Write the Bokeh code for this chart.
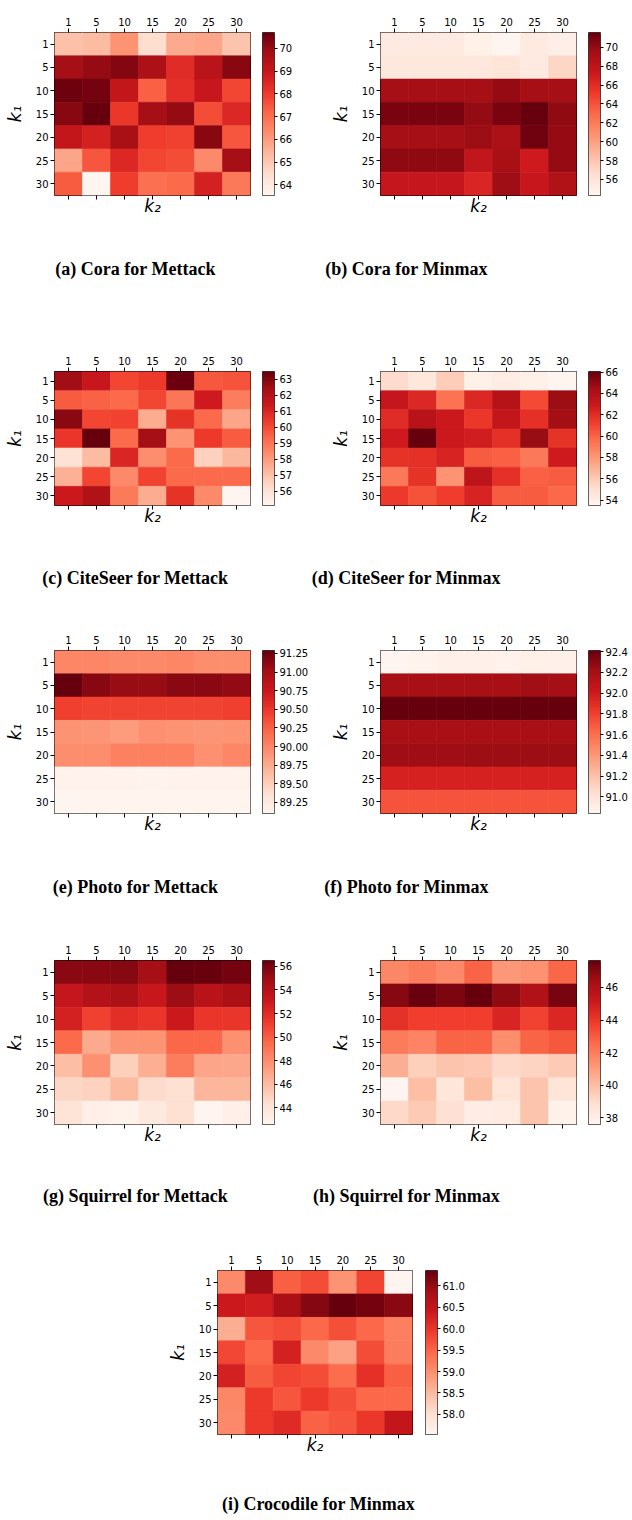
import numpy as np
from bokeh.plotting import figure
from bokeh.models import (FactorRange, Range1d, LinearColorMapper, CategoricalAxis,
                          FixedTicker, PrintfTickFormatter, Label, ColumnDataSource)
from bokeh.layouts import row, column
from bokeh.palettes import Reds9
from bokeh.embed import file_html
from bokeh.resources import INLINE

k_values = ["1", "5", "10", "15", "20", "25", "30"]

cora_mettack = [
    [65.2, 65.3, 66.2, 64.5, 65.7, 65.8, 65.1],
    [69.8, 70.0, 70.3, 69.6, 68.4, 69.3, 70.2],
    [70.6, 70.5, 69.1, 67.3, 68.3, 69.0, 67.8],
    [70.2, 70.7, 68.1, 69.8, 70.0, 67.7, 68.5],
    [69.1, 68.7, 69.7, 68.0, 67.9, 70.2, 67.5],
    [65.8, 67.5, 68.5, 67.8, 67.7, 66.4, 69.8],
    [67.4, 63.53, 68.0, 67.0, 67.1, 68.7, 66.8],
]
cora_minmax = [
    [55.4, 55.4, 55.4, 54.9, 54.3, 55.4, 55.0],
    [55.6, 55.6, 55.6, 55.6, 56.0, 55.5, 57.0],
    [69.3, 69.3, 69.3, 69.4, 69.9, 69.3, 69.3],
    [70.9, 70.9, 70.9, 70.0, 70.9, 71.57, 70.1],
    [69.4, 69.4, 69.4, 69.7, 69.0, 71.3, 69.9],
    [70.2, 70.2, 70.2, 67.8, 69.2, 67.1, 69.9],
    [67.6, 67.6, 67.6, 66.4, 69.6, 67.5, 68.7],
]
citeseer_mettack = [
    [62.5, 61.5, 60.1, 60.4, 63.4, 59.7, 59.8],
    [59.6, 59.5, 59.3, 60.1, 59.0, 61.3, 58.8],
    [62.9, 60.1, 60.2, 57.6, 60.6, 59.3, 57.8],
    [60.5, 63.49, 59.3, 62.4, 58.2, 60.4, 59.6],
    [56.1, 57.2, 61.0, 58.4, 59.3, 56.6, 57.3],
    [57.5, 60.1, 58.5, 60.2, 59.3, 59.3, 59.3],
    [61.4, 62.1, 58.9, 57.6, 60.6, 58.5, 55.12],
]
citeseer_minmax = [
    [55.3, 54.6, 55.9, 53.9, 54.1, 53.8, 53.5],
    [63.2, 62.2, 59.4, 62.2, 63.8, 60.9, 64.7],
    [62.0, 63.7, 62.9, 61.5, 63.3, 61.8, 64.5],
    [62.8, 66.05, 62.9, 62.7, 61.8, 64.8, 61.7],
    [61.7, 61.8, 62.4, 60.3, 60.1, 59.2, 62.8],
    [59.2, 61.7, 58.2, 63.5, 61.8, 60.1, 60.3],
    [61.4, 60.6, 61.3, 62.4, 60.3, 60.3, 59.8],
]
photo_mettack = [
    [90.00, 90.00, 89.98, 89.98, 90.00, 89.96, 89.96],
    [91.29, 91.14, 91.07, 91.07, 91.13, 91.13, 91.10],
    [90.45, 90.42, 90.42, 90.42, 90.42, 90.42, 90.45],
    [89.92, 89.90, 89.86, 89.93, 89.92, 89.90, 89.92],
    [89.96, 89.96, 90.04, 90.04, 90.04, 89.93, 90.00],
    [89.14, 89.14, 89.14, 89.13, 89.14, 89.14, 89.14],
    [89.10, 89.12, 89.12, 89.12, 89.12, 89.12, 89.12],
]
photo_minmax = [
    [90.84, 90.86, 90.88, 90.88, 90.87, 90.89, 90.88],
    [92.20, 92.20, 92.20, 92.20, 92.20, 92.22, 92.21],
    [92.41, 92.41, 92.41, 92.41, 92.41, 92.41, 92.41],
    [92.20, 92.20, 92.20, 92.20, 92.20, 92.20, 92.20],
    [92.23, 92.23, 92.23, 92.24, 92.24, 92.24, 92.24],
    [91.96, 91.96, 91.96, 91.96, 91.96, 91.96, 91.96],
    [91.72, 91.72, 91.72, 91.72, 91.72, 91.72, 91.72],
]
squirrel_mettack = [
    [55.5, 55.5, 55.6, 54.7, 56.5, 56.4, 56.1],
    [53.3, 54.1, 54.4, 53.2, 55.0, 53.9, 54.5],
    [52.6, 51.1, 51.9, 51.5, 53.0, 51.5, 51.5],
    [49.5, 46.8, 47.7, 47.7, 49.6, 49.6, 47.9],
    [45.9, 47.9, 45.1, 46.6, 48.7, 47.0, 46.9],
    [44.8, 45.0, 46.1, 44.5, 44.3, 46.3, 46.3],
    [44.1, 43.1, 42.9, 43.6, 44.3, 42.58, 43.1],
]
squirrel_minmax = [
    [41.7, 42.0, 41.6, 42.8, 41.2, 41.4, 42.7],
    [47.0, 47.6, 47.2, 47.65, 46.8, 46.0, 47.3],
    [44.2, 43.8, 43.8, 43.8, 44.7, 43.7, 44.6],
    [42.1, 41.8, 42.8, 42.8, 41.5, 42.8, 43.1],
    [40.5, 39.4, 39.8, 39.7, 39.1, 39.3, 39.6],
    [37.59, 40.0, 38.5, 40.0, 38.6, 39.8, 38.6],
    [39.1, 39.6, 38.8, 38.1, 38.2, 39.8, 37.8],
]
crocodile_minmax = [
    [59.06, 60.90, 59.56, 59.75, 58.95, 59.83, 57.53],
    [60.40, 60.33, 60.82, 61.13, 61.36, 61.25, 61.09],
    [58.64, 59.64, 59.75, 59.45, 59.72, 59.45, 59.18],
    [59.79, 59.45, 60.29, 59.06, 58.79, 59.75, 59.22],
    [60.29, 59.60, 59.83, 59.75, 59.41, 60.06, 59.56],
    [59.10, 59.94, 59.64, 59.94, 59.72, 59.45, 59.45],
    [59.06, 59.94, 60.14, 59.52, 59.64, 59.98, 60.52],
]

ticks_a = [64, 65, 66, 67, 68, 69, 70]
ticks_b = [56, 58, 60, 62, 64, 66, 68, 70]
ticks_c = [56, 57, 58, 59, 60, 61, 62, 63]
ticks_d = [54, 56, 58, 60, 62, 64, 66]
ticks_e = [89.25, 89.50, 89.75, 90.00, 90.25, 90.50, 90.75, 91.00, 91.25]
ticks_f = [91.0, 91.2, 91.4, 91.6, 91.8, 92.0, 92.2, 92.4]
ticks_g = [44, 46, 48, 50, 52, 54, 56]
ticks_h = [38, 40, 42, 44, 46]
ticks_i = [58.0, 58.5, 59.0, 59.5, 60.0, 60.5, 61.0]

captions = ["(a) Cora for Mettack", "(b) Cora for Minmax",
            "(c) CiteSeer for Mettack", "(d) CiteSeer for Minmax",
            "(e) Photo for Mettack", "(f) Photo for Minmax",
            "(g) Squirrel for Mettack", "(h) Squirrel for Minmax",
            "(i) Crocodile for Minmax"]

# matplotlib "Reds" colormap (ColorBrewer 9 anchors, linear interpolation)
anchors = list(reversed(Reds9))
rgb = np.array([[int(c[i:i + 2], 16) for i in (1, 3, 5)] for c in anchors], float)
ta = np.linspace(0, 1, len(anchors))
tt = np.linspace(0, 1, 256)
reds256 = ["#%02x%02x%02x" % tuple(int(round(np.interp(v, ta, rgb[:, k]))) for k in range(3))
           for v in tt]

FONT = "DejaVu Sans"
HEAT_H = 230


def style_axis(ax):
    ax.axis_line_color = None
    ax.major_tick_line_color = "black"
    ax.major_tick_out = 4
    ax.major_tick_in = 0
    ax.minor_tick_line_color = None
    ax.major_label_text_font = FONT
    ax.major_label_text_font_size = "10px"
    ax.major_label_text_color = "black"
    ax.axis_label_text_font = FONT
    ax.axis_label_text_font_style = "italic"
    ax.axis_label_text_font_size = "17px"
    ax.axis_label_text_color = "black"


def heat_fig(vals, width, left, top, fw, fh):
    height = HEAT_H
    bottom = height - top - fh
    right = width - left - fw
    xs, ys, vs = [], [], []
    for i, k1 in enumerate(k_values):
        for j, k2 in enumerate(k_values):
            xs.append(k2)
            ys.append(k1)
            vs.append(vals[i][j])
    src = ColumnDataSource(dict(k2=xs, k1=ys, v=vs))
    mapper = LinearColorMapper(palette=reds256, low=min(vs), high=max(vs))
    p = figure(width=width, height=height,
               x_range=FactorRange(factors=k_values),
               y_range=FactorRange(factors=k_values[::-1]),
               x_axis_location=None, y_axis_location="left",
               output_backend="svg", toolbar_location=None, title=None,
               min_border_left=left, min_border_right=right,
               min_border_top=top, min_border_bottom=bottom)
    p.rect(x="k2", y="k1", width=1, height=1, source=src,
           fill_color={"field": "v", "transform": mapper},
           line_color={"field": "v", "transform": mapper}, line_width=0.6)
    p.grid.visible = False
    p.outline_line_color = "black"
    p.outline_line_width = 1

    top_axis = CategoricalAxis()
    style_axis(top_axis)
    top_axis.major_label_standoff = 3
    p.add_layout(top_axis, "above")

    bot_axis = CategoricalAxis()
    style_axis(bot_axis)
    bot_axis.major_label_text_font_size = "1px"
    bot_axis.major_label_text_color = None
    bot_axis.major_label_standoff = 0
    bot_axis.axis_label = "k₂"
    bot_axis.axis_label_standoff = -4
    p.add_layout(bot_axis, "below")

    ly = p.yaxis[0]
    style_axis(ly)
    ly.major_label_standoff = 2
    ly.axis_label = "k₁"
    ly.axis_label_standoff = 8
    return p, mapper


def cbar_fig(mapper, ticks, fmt, width, left, top, ch):
    height = HEAT_H
    lo, hi = mapper.low, mapper.high
    p = figure(width=width, height=height, x_range=Range1d(0, 1), y_range=Range1d(lo, hi),
               x_axis_location=None, y_axis_location="right",
               output_backend="svg", toolbar_location=None, title=None,
               min_border_left=left, min_border_right=width - left - 12,
               min_border_top=top, min_border_bottom=height - top - ch)
    grad = np.linspace(lo, hi, 256).reshape(256, 1)
    p.image(image=[grad], x=0, y=lo, dw=1, dh=hi - lo, color_mapper=mapper)
    p.grid.visible = False
    p.outline_line_color = "#333333"
    p.outline_line_width = 1
    ax = p.yaxis[0]
    ax.ticker = FixedTicker(ticks=ticks)
    ax.formatter = PrintfTickFormatter(format=fmt)
    ax.axis_line_color = None
    ax.major_tick_line_color = "black"
    ax.major_tick_out = 3
    ax.major_tick_in = 0
    ax.minor_tick_line_color = None
    ax.major_label_text_font = FONT
    ax.major_label_text_font_size = "10px"
    ax.major_label_text_color = "black"
    ax.major_label_standoff = 2
    return p


def caption_fig(height, texts, centers, cy):
    p = figure(width=632, height=height, x_range=Range1d(0, 632), y_range=Range1d(0, height),
               x_axis_location=None, y_axis_location=None,
               output_backend="svg", toolbar_location=None, title=None,
               min_border=0, min_border_left=0, min_border_right=0,
               min_border_top=0, min_border_bottom=0)
    p.grid.visible = False
    p.outline_line_color = None
    for txt, cx in zip(texts, centers):
        p.add_layout(Label(x=cx, y=height - cy, x_units="screen", y_units="screen",
                           text=txt, text_align="center", text_baseline="middle",
                           text_font="Liberation Serif", text_font_style="bold",
                           text_font_size="18px", text_color="black"))
    return p


def pair_block(pitch, left_spec, right_spec, cap_y):
    vals_l, ticks_l, fmt_l, cap_l, geo_l = left_spec
    vals_r, ticks_r, fmt_r, cap_r, geo_r = right_spec
    # geo: (frame_top, frame_h, cbar_top, cbar_h)
    hl, ml = heat_fig(vals_l, 256, 54, geo_l[0], 196, geo_l[1])
    cl = cbar_fig(ml, ticks_l, fmt_l, 60, 6, geo_l[2], geo_l[3])
    hr, mr = heat_fig(vals_r, 266, 64, geo_r[0], 196, geo_r[1])
    cr = cbar_fig(mr, ticks_r, fmt_r, 50, 6, geo_r[2], geo_r[3])
    cap = caption_fig(pitch - HEAT_H, [cap_l, cap_r], [135, 406], cap_y - HEAT_H)
    return column(row(hl, cl, hr, cr, spacing=0), cap, spacing=0)


std = (32, 163, 11, 205)
b1 = pair_block(310, (cora_mettack, ticks_a, "%d", captions[0], std),
                (cora_minmax, ticks_b, "%d", captions[1], std), 268)
b2 = pair_block(309, (citeseer_mettack, ticks_c, "%d", captions[2], (31, 164, 11, 205)),
                (citeseer_minmax, ticks_d, "%d", captions[3], (61, 140, 43, 175)), 267)
b3 = pair_block(310, (photo_mettack, ticks_e, "%.2f", captions[4], (31, 163, 10, 205)),
                (photo_minmax, ticks_f, "%.1f", captions[5], (31, 163, 10, 205)), 267)
b4 = pair_block(309, (squirrel_mettack, ticks_g, "%d", captions[6], (31, 164, 10, 204)),
                (squirrel_minmax, ticks_h, "%d", captions[7], (31, 164, 10, 204)), 266)

hi_, mi_ = heat_fig(crocodile_minmax, 419, 217, 32, 195, 164)
ci_ = cbar_fig(mi_, ticks_i, "%.1f", 213, 6, 11, 204)
cap_i = caption_fig(282 - HEAT_H, [captions[8]], [318], 265 - HEAT_H)
b5 = column(row(hi_, ci_, spacing=0), cap_i, spacing=0)

layout = column(b1, b2, b3, b4, b5, spacing=0)

with open("out.html", "w") as f:
    f.write(file_html(layout, INLINE))
